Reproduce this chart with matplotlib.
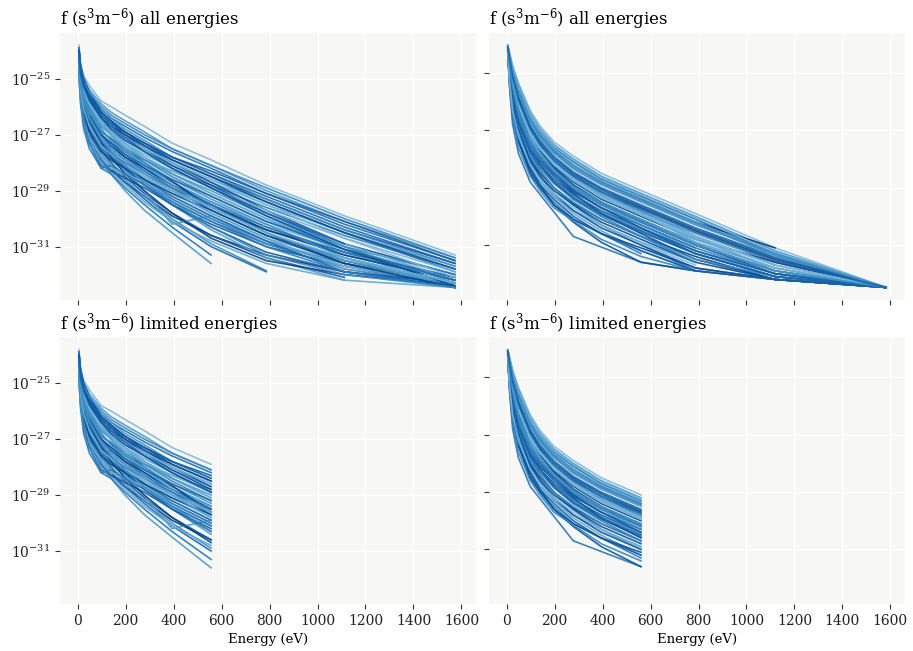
import numpy as np
import matplotlib
matplotlib.use("Agg")
import matplotlib.pyplot as plt
from matplotlib.ticker import FixedLocator, LogFormatterSciNotation, NullLocator

nan = np.nan

# energy grids (eV)
energy_left = [5, 12, 25, 49, 98, 139, 197, 278, 393, 556, 786, 1112, 1573]
energy_right = [5, 12, 25, 49, 98, 139, 197, 278, 394, 560, 787, 1119, 1582]
limit_energy = 560

# log10 f (s^3 m^-6), one row per curve, nan = no sample
logf_left = [
    [-23.8, -24.5, -24.9, -25.25, -25.8, -26.0, -26.3, -26.7, -27.3, -27.9, -28.8, -29.9, -31.3],
    [-23.9, -24.6, -25.0, -25.4, -25.9, -26.2, -26.5, -26.9, -27.5, -28.1, -29.0, -30.1, -31.4],
    [-24.0, -24.7, -25.1, -25.5, -26.1, -26.4, -26.7, -27.1, -27.6, -28.2, -29.1, -30.2, -31.5],
    [-24.0, -24.8, -25.3, -25.8, -26.4, -26.7, -27.0, -27.4, -27.9, -28.5, -29.3, -30.4, -31.6],
    [-24.1, -24.9, -25.5, -26.0, -26.6, -26.9, -27.2, -27.6, -28.1, -28.7, -29.5, -30.5, -31.7],
    [-24.2, -25.1, -25.8, -26.4, -27.0, -27.3, -27.6, -27.9, -28.3, -28.8, -29.6, -30.6, -31.8],
    [-24.1, -24.8, -25.2, -25.6, -26.2, -26.5, -26.9, -27.4, -28.0, -28.7, -29.7, -30.9, -32.0],
    [-24.3, -25.2, -25.9, -26.6, -27.3, -27.6, -27.9, -28.3, -28.8, -29.4, -30.2, -31.1, -32.1],
    [-24.2, -25.0, -25.6, -26.1, -26.8, -27.2, -27.6, -28.1, -28.7, -29.4, -30.3, -31.3, -32.2],
    [-24.4, -25.3, -26.0, -26.7, -27.5, -27.9, -28.3, -28.8, -29.4, -30.1, -30.9, -31.6, -32.3],
    [-24.5, -25.5, -26.3, -27.0, -27.8, -28.2, -28.7, -29.2, -29.9, -30.6, -31.3, -31.9, -32.4],
    [-24.6, -25.6, -26.5, -27.2, -28.0, -28.4, -29.0, -29.7, -30.5, -31.6, nan, nan, nan],
    [-24.3, -25.1, -25.7, -26.3, -27.0, -27.4, -27.8, -28.3, -28.9, -29.7, -30.6, -31.4, -32.3],
    [-23.9, -24.6, -25.1, -25.6, -26.3, -26.6, -27.0, -27.5, -28.1, -28.8, -29.8, -31.0, -32.46],
    [-24.0, -24.7, -25.2, -25.7, -26.5, -26.9, -27.3, -27.8, -28.4, -29.1, -30.0, -31.2, -32.46],
    [-24.2, -25.0, -25.5, -26.0, -26.7, -27.0, -27.4, -27.9, -28.5, -29.2, -30.1, -31.0, -32.0],
    [-24.5, -25.4, -26.1, -26.8, -27.6, -28.0, -28.5, -29.1, -29.8, -30.6, -31.4, -32.1, nan],
    [-24.4, -25.2, -25.9, -26.5, -27.2, -27.6, -28.0, -28.5, -29.1, -29.8, -30.7, -31.5, nan],
    [-24.6, -25.5, -26.2, -26.9, -27.7, -28.1, -28.6, -29.2, -30.0, -30.9, -31.86, nan, nan],
    [-24.7, -25.7, -26.6, -27.3, -28.1, -28.3, -28.7, -29.3, -30.1, -31.0, -31.9, nan, nan],
    [-24.3, -25.1, -25.7, -26.2, -26.9, nan, nan, -28.0, nan, -29.6, -30.5, -31.5, -32.4],
    [-24.5, -25.4, -26.1, -26.7, -27.4, -27.8, -28.2, nan, -30.2, -29.9, -30.8, -31.6, -32.3],
    [-24.1, -24.8, -25.3, -25.8, -26.5, -26.8, -27.1, -27.5, -28.0, -28.6, -29.4, -30.5, -31.9],
    [-24.3, -25.1, -25.8, -26.4, -27.1, -27.5, -27.9, -28.4, -29.0, -29.6, -30.4, -31.2, -32.1],
    [-24.8, -25.8, -26.6, -27.3, -28.0, -28.3, -28.8, -29.4, -30.1, -30.8, -31.6, -32.2, -32.46],
    [-24.4, -25.3, -26.0, -26.6, -27.3, nan, -28.1, -28.6, -29.3, -30.0, -30.9, -31.8, -32.4],
    [-24.6, -25.6, -26.4, -27.1, -27.9, -28.3, nan, -28.9, -29.5, -30.2, -31.0, -31.7, -32.3],
    [-24.2, -24.9, -25.4, -25.9, -26.6, -27.0, -27.4, -27.8, -28.3, -28.9, -29.7, -30.7, -31.9],
    [-23.9, -24.6, -25.0, -25.5, -26.1, -26.4, -26.8, -27.2, -27.8, -28.4, -29.3, -30.4, -31.7],
    [-24.0, -24.7, -25.2, -25.6, -26.3, -26.6, -26.9, -27.3, -27.8, -28.4, -29.2, -30.3, -31.6],
    [-24.3, -25.2, -26.0, -26.8, -27.6, -27.4, -27.8, -28.2, -28.8, -29.5, -30.4, -31.3, -32.2],
    [-24.5, -25.5, -26.2, -26.9, -27.6, -27.9, -28.3, -28.8, -29.5, -30.4, -31.4, -32.2, nan],
    [-24.9, -25.9, -26.8, -27.5, -28.2, -28.4, -28.9, -29.5, -30.3, -31.3, nan, nan, nan],
    [-24.4, -25.2, -25.8, -26.3, -27.0, -27.3, -27.7, -28.2, -28.8, -29.5, -30.5, -31.6, -32.46],
    [-24.1, -24.9, -25.4, -25.9, -26.6, -26.9, -27.3, -27.7, -28.2, -28.9, -29.8, -30.9, -32.2],
    [-24.6, -25.5, -26.2, -26.8, -27.5, -27.8, -28.2, -28.7, -29.3, -30.0, -30.8, -31.7, -32.46],
    [-24.2, -25.0, -25.7, -26.3, -27.2, -27.7, -28.2, -28.8, -29.5, -30.3, -31.2, -31.9, -32.3],
    [-24.7, -25.7, -26.5, -27.1, -27.8, -28.2, -28.4, -28.7, -29.2, -29.9, -30.8, -31.7, -32.3],
    [-24.0, -24.8, -25.4, -26.0, -26.8, -27.2, -27.6, -28.0, -28.6, -29.3, -30.2, -31.4, -32.46],
    [-24.3, -25.2, -25.9, -26.5, -27.3, -27.7, -28.1, -28.6, -29.2, -29.9, -30.8, -31.9, -32.46],
    [-24.5, -25.3, -25.9, -26.5, -27.3, -27.8, -28.4, -29.0, -29.8, -30.7, -31.5, -32.0, -32.4],
    [-24.1, -24.8, -25.4, -25.9, -26.6, -27.0, -27.5, -28.1, -28.8, -29.6, -30.5, -31.5, -32.3],
    [-24.4, -25.3, -26.1, -26.8, -27.4, -27.7, -28.0, -28.4, -28.9, -29.5, -30.3, -31.2, -32.2],
    [-23.9, -24.5, -25.0, -25.5, -26.2, -26.5, -26.9, -27.3, -27.9, -28.5, -29.4, -30.5, -31.8],
    [-24.2, -24.9, -25.4, -25.9, -26.6, -26.9, -27.3, -27.8, -28.4, -29.1, -30.0, -31.0, nan],
    [-23.9, -24.6, -25.1, -25.5, -26.0, -26.3, -26.6, -27.0, -27.5, -28.1, -28.9, -30.0, -31.4],
    [-24.0, -24.8, -25.3, -25.7, -26.3, -26.6, -26.9, -27.3, -27.8, -28.3, -29.1, -30.1, -31.5],
    [-24.1, -24.9, -25.4, -25.9, -26.5, -26.8, -27.1, -27.5, -28.0, -28.6, -29.5, -30.7, -32.1],
    [-24.2, -25.0, -25.6, -26.2, -26.9, -27.1, -27.5, -27.9, -28.4, -29.0, -29.9, -31.0, -32.3],
    [-24.3, -25.2, -25.9, -26.5, -27.1, -27.4, -27.7, -28.1, -28.6, -29.2, -30.1, -31.1, -32.2],
    [-24.4, -25.4, -26.2, -26.9, -27.6, -27.9, -28.2, -28.6, -29.1, -29.7, -30.6, -31.6, -32.46],
    [-24.2, -25.1, -25.8, -26.4, -27.1, -27.5, -27.9, -28.4, -29.0, -29.8, -30.7, -31.8, nan],
    [-24.6, -25.6, -26.5, -27.3, -28.2, -28.1, -28.4, -28.8, -29.4, -30.1, -31.0, -31.9, -32.46],
    [-24.0, -24.7, -25.2, -25.7, -26.4, -26.8, -27.2, -27.6, -28.2, -28.9, -29.9, -31.1, -32.4],
    [-24.5, -25.4, -26.1, -26.7, -27.4, -27.7, -28.1, -28.5, -29.0, -29.6, -30.5, -31.4, -32.3],
    [-24.3, -25.2, -25.8, -26.4, -27.2, -27.6, -28.1, -28.7, -29.4, -30.3, -31.3, -32.0, -32.46],
    [-24.1, -24.8, -25.3, -25.8, -26.4, -26.7, -27.1, -27.6, -28.2, -28.9, -29.8, -30.9, nan],
]

logf_right = [
    [-24.03, -24.3, -24.75, -25.35, -26.3, -26.85, -27.4, -27.9, -28.5, -29.1, -29.9, -31.1, -32.48],
    [-24.05, -24.35, -24.8, -25.4, -26.4, -26.95, -27.5, -28.0, -28.6, -29.2, -30.0, -31.2, -32.48],
    [-24.05, -24.4, -24.9, -25.5, -26.5, -27.05, -27.6, -28.1, -28.7, -29.3, -30.1, -31.3, -32.48],
    [-24.1, -24.4, -24.95, -25.6, -26.6, -27.15, -27.7, -28.2, -28.8, -29.4, -30.2, -31.1, nan],
    [-24.1, -24.5, -25.0, -25.7, -26.7, -27.25, -27.8, -28.35, -28.9, -29.5, -30.3, -31.3, -32.48],
    [-24.1, -24.5, -25.1, -25.8, -26.8, -27.35, -27.9, -28.45, -29.0, -29.6, -30.4, -31.4, -32.48],
    [-24.15, -24.6, -25.2, -25.9, -26.9, -27.45, -28.0, -28.55, -29.1, -29.7, -30.5, -31.5, -32.48],
    [-24.15, -24.6, -25.3, -26.0, -27.0, -27.55, -28.1, -28.65, -29.25, -29.85, -30.6, -31.6, -32.48],
    [-24.1, -24.7, -25.4, -26.1, -27.0, -27.5, -28.05, -28.6, -29.2, -29.8, -30.7, -31.7, nan],
    [-24.2, -24.8, -25.5, -26.3, -27.2, -27.7, -28.25, -28.8, -29.4, -30.0, -30.8, -31.6, -32.48],
    [-24.2, -24.9, -25.6, -26.4, -27.3, -27.8, -28.35, -28.9, -29.5, -30.1, -30.9, -31.8, -32.48],
    [-24.2, -25.0, -25.8, -26.6, -27.5, -28.0, -28.5, -29.05, -29.6, -30.2, -31.0, -31.9, -32.48],
    [-24.25, -25.1, -25.9, -26.7, -27.6, -28.1, -28.6, -29.15, -29.7, -30.3, -31.1, nan, nan],
    [-24.25, -25.1, -26.0, -26.8, -27.7, -28.2, -28.75, -29.3, -29.85, -30.45, -31.2, -32.0, -32.48],
    [-24.3, -25.2, -26.1, -26.9, -27.8, -28.3, -28.85, -29.4, -29.95, -30.55, -31.3, -32.1, -32.48],
    [-24.3, -25.3, -26.3, -27.1, -28.0, -28.5, -29.0, -29.55, -30.1, -30.7, -31.4, -32.2, -32.48],
    [-24.3, -25.4, -26.5, -27.4, -28.3, -28.8, -29.3, -29.8, -30.3, -30.9, -31.6, nan, nan],
    [-24.3, -25.5, -26.8, -27.8, -28.8, nan, nan, -30.7, nan, -31.6, -31.9, -32.2, -32.48],
    [-24.1, -24.5, -25.1, -25.9, -27.1, -27.7, -28.3, -28.9, -29.5, -30.2, -31.0, -32.0, -32.48],
    [-24.05, -24.4, -24.9, -25.6, -26.7, -27.3, -27.9, -28.5, -29.1, -29.8, -30.7, -31.9, -32.48],
    [-24.2, -24.9, -25.7, -26.6, -27.8, -28.4, -29.0, -29.6, -30.3, -31.0, -31.9, nan, nan],
    [-24.15, -24.7, -25.4, -26.2, -27.4, -28.0, -28.6, -29.2, -29.9, -30.6, -31.5, -32.2, nan],
    [-24.25, -25.2, -26.2, -27.1, -28.2, -28.7, -29.3, -29.9, -30.5, -31.2, -31.9, nan, nan],
    [-24.3, -25.3, -26.4, -27.3, -28.5, -29.0, -29.5, -30.1, -30.6, -31.3, nan, nan, nan],
    [-24.2, -25.0, -25.9, -26.9, -28.1, -28.6, -29.1, -29.6, -30.2, -30.8, -31.6, -32.2, -32.48],
    [-24.1, -24.6, -25.3, -26.1, -27.2, -27.8, -28.4, -29.0, -29.6, -30.3, -31.2, -32.1, -32.48],
    [-24.15, -24.8, -25.6, -26.5, -27.6, -28.2, -28.8, -29.4, -30.0, -30.7, -31.6, nan, nan],
    [-24.25, -25.2, -26.3, -27.3, -28.4, nan, -29.6, -30.1, -30.6, -31.1, -31.8, -32.2, -32.48],
    [-24.1, -24.6, -25.2, -26.0, -27.1, -27.6, -28.2, -28.7, -29.3, -29.9, -30.7, -31.7, -32.48],
    [-24.2, -24.9, -25.7, -26.5, -27.5, -28.0, -28.6, -29.1, -29.7, -30.3, -31.1, -32.0, -32.48],
    [-24.3, -25.3, -26.4, -27.4, -28.5, -29.0, -29.6, -30.2, -30.9, -31.6, -31.9, nan, nan],
    [-24.05, -24.35, -24.85, -25.5, -26.5, -27.1, -27.65, -28.2, -28.75, -29.35, -30.2, -31.4, -32.48],
    [-24.2, -24.8, -25.6, -26.4, -27.4, -27.9, -28.45, -29.0, -29.55, -30.15, -31.0, -31.9, nan],
    [-24.25, -25.1, -26.0, -26.9, -28.0, -28.6, -29.2, -29.8, -30.4, -31.0, -31.8, -32.2, -32.48],
    [-24.1, -24.5, -25.2, -26.0, -27.0, -27.6, -28.1, -28.7, -29.3, -29.95, -30.8, -31.8, -32.48],
    [-24.3, -25.4, -26.6, -27.6, -28.6, -29.1, -29.7, nan, -30.8, -31.4, -31.9, -32.2, -32.48],
    [-24.15, -24.7, -25.5, -26.3, -27.4, -27.9, -28.5, -29.1, -29.7, -30.4, -31.3, -32.1, -32.48],
    [-24.1, -24.4, -25.0, -25.7, -26.8, -27.4, -28.0, -28.6, -29.2, -29.9, -30.9, nan, nan],
    [-24.2, -25.0, -25.9, -26.8, -27.9, -28.4, -29.0, -29.5, -30.1, -30.7, -31.5, -32.1, -32.48],
    [-24.25, -25.2, -26.2, -27.2, -28.3, -28.9, -29.4, -30.0, -30.6, -31.2, -31.9, -32.2, -32.48],
    [-24.05, -24.3, -24.8, -25.45, -26.45, -27.0, -27.55, -28.05, -28.65, -29.25, -30.05, -31.25, -32.48],
    [-24.1, -24.45, -25.0, -25.65, -26.65, -27.2, -27.75, -28.3, -28.85, -29.45, -30.25, -31.35, -32.48],
    [-24.1, -24.5, -25.1, -25.85, -26.85, -27.4, -27.95, -28.5, -29.05, -29.65, -30.45, -31.45, -32.48],
    [-24.15, -24.65, -25.35, -26.15, -27.15, -27.65, -28.2, -28.75, -29.35, -29.95, -30.75, -31.7, -32.48],
    [-24.2, -24.85, -25.65, -26.45, -27.4, -27.9, -28.45, -29.0, -29.6, -30.2, -31.0, -31.9, -32.48],
    [-24.25, -25.05, -25.9, -26.75, -27.7, -28.2, -28.7, -29.25, -29.8, -30.4, -31.2, -32.0, -32.48],
    [-24.1, -24.55, -25.25, -26.05, -27.05, -27.6, -28.15, -28.7, -29.3, -29.9, -30.7, -31.7, nan],
    [-24.05, -24.4, -24.95, -25.6, -26.6, -27.15, -27.7, -28.25, -28.8, -29.4, -30.2, -31.3, -32.48],
    [-24.2, -24.95, -25.8, -26.7, -27.7, -28.2, -28.8, -29.35, -29.9, -30.5, -31.3, -32.1, -32.48],
    [-24.3, -25.3, -26.3, -27.2, -28.2, -28.7, -29.2, -29.7, -30.3, -30.95, -31.7, nan, nan],
    [-24.15, -24.7, -25.45, -26.3, -27.35, -27.85, -28.4, -28.95, -29.5, -30.1, -30.95, -31.9, -32.48],
    [-24.1, -24.5, -25.15, -25.95, -26.95, -27.5, -28.05, -28.6, -29.15, -29.75, -30.55, -31.55, -32.48],
]

titles = [r"f (s$^3$m$^{-6}$) all energies", r"f (s$^3$m$^{-6}$) limited energies"]

plt.rcParams["font.family"] = "DejaVu Serif"
plt.rcParams["mathtext.fontset"] = "dejavuserif"

fig, axes = plt.subplots(2, 2, figsize=(9.13, 6.51), dpi=100, sharex=True, sharey="col")
fig.subplots_adjust(left=0.0657, right=0.9912, top=0.9493, bottom=0.0722, wspace=0.031, hspace=0.142)

cmap = plt.get_cmap("Blues")


def draw_curves(ax, energy, curves, emax=None):
    e = np.array(energy, dtype=float)
    n = len(curves)
    for i, row in enumerate(curves):
        y = np.array(row, dtype=float)
        keep = np.isfinite(y)
        if emax is not None:
            keep &= e <= emax
        shade = 0.45 + 0.5 * ((i * 17) % n) / (n - 1)
        ax.plot(e[keep], 10.0 ** y[keep], color=cmap(shade), lw=1.2, alpha=0.9)


draw_curves(axes[0, 0], energy_left, logf_left)
draw_curves(axes[0, 1], energy_right, logf_right)
draw_curves(axes[1, 0], energy_left, logf_left, limit_energy)
draw_curves(axes[1, 1], energy_right, logf_right, limit_energy)

for r in range(2):
    for c in range(2):
        ax = axes[r, c]
        ax.set_yscale("log")
        ax.set_facecolor("#f7f7f5")
        for s in ax.spines.values():
            s.set_visible(False)
        ax.grid(True, color="white", lw=1.0)
        ax.set_axisbelow(True)
        ax.yaxis.set_major_locator(FixedLocator([1e-31, 1e-29, 1e-27, 1e-25]))
        ax.yaxis.set_major_formatter(LogFormatterSciNotation())
        ax.yaxis.set_minor_locator(NullLocator())
        ax.set_xticks(range(0, 1601, 200))
        ax.tick_params(length=3.5, width=0.8, color="#333333", labelsize=10, labelcolor="#222222")
        ax.set_title(titles[r], loc="left", fontsize=12)
        if c == 1:
            ax.tick_params(labelleft=False)
        if r == 1:
            ax.set_xlabel("Energy (eV)", fontsize=9.5)

plt.savefig("out.png", dpi=100)
